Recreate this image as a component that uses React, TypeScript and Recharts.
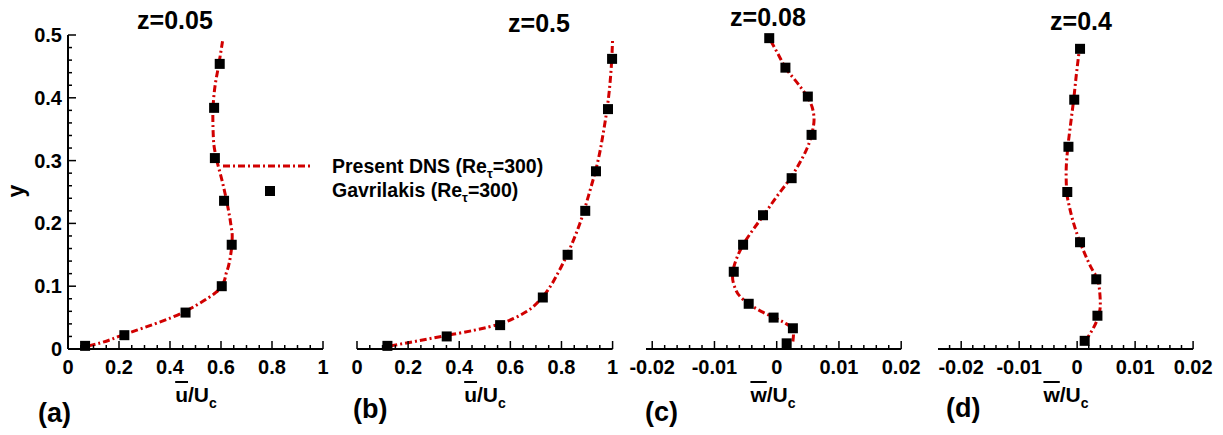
import React from 'react';
import { ScatterChart, Scatter, XAxis, YAxis } from 'recharts';

// ---------- data ----------
// Panel (a) z=0.05 : u/Uc
const aLineY = [0.005, 0.01, 0.02, 0.03, 0.04, 0.05, 0.06, 0.07, 0.08, 0.09, 0.1, 0.11, 0.12, 0.13, 0.15, 0.18, 0.2, 0.23, 0.27, 0.3, 0.33, 0.37, 0.42, 0.45, 0.49];
const aLineU = [0.08, 0.13, 0.2, 0.27, 0.34, 0.405, 0.46, 0.505, 0.545, 0.58, 0.602, 0.614, 0.62, 0.628, 0.638, 0.644, 0.638, 0.625, 0.603, 0.584, 0.571, 0.568, 0.577, 0.59, 0.606];
const aMarkY = [0.005, 0.022, 0.058, 0.1, 0.166, 0.236, 0.304, 0.384, 0.454];
const aMarkU = [0.067, 0.221, 0.461, 0.603, 0.642, 0.612, 0.576, 0.573, 0.595];

// Panel (b) z=0.5 : u/Uc
const bLineY = [0.005, 0.01, 0.02, 0.03, 0.04, 0.05, 0.06, 0.08, 0.1, 0.12, 0.15, 0.2, 0.25, 0.3, 0.35, 0.4, 0.45, 0.493];
const bLineU = [0.13, 0.2, 0.33, 0.46, 0.56, 0.62, 0.665, 0.72, 0.757, 0.785, 0.822, 0.872, 0.91, 0.943, 0.966, 0.984, 0.995, 1.0];
const bMarkY = [0.005, 0.02, 0.038, 0.082, 0.15, 0.22, 0.283, 0.382, 0.462];
const bMarkU = [0.119, 0.351, 0.56, 0.727, 0.824, 0.893, 0.935, 0.982, 0.998];

// Panel (c) z=0.08 : w/Uc
const cLineY = [0.012, 0.025, 0.033, 0.042, 0.05, 0.06, 0.072, 0.085, 0.1, 0.115, 0.13, 0.15, 0.166, 0.19, 0.213, 0.24, 0.272, 0.3, 0.32, 0.345, 0.365, 0.385, 0.402, 0.42, 0.448, 0.47, 0.495];
const cLineW = [0.0026, 0.0027, 0.0025, 0.0012, -0.0004, -0.0025, -0.0045, -0.006, -0.0068, -0.0071, -0.0069, -0.0062, -0.0054, -0.0038, -0.0021, -0.0002, 0.0022, 0.0039, 0.0049, 0.0057, 0.006, 0.0057, 0.0049, 0.0036, 0.0014, 0.0002, -0.0012];
const cMarkY = [0.009, 0.033, 0.05, 0.072, 0.123, 0.166, 0.213, 0.272, 0.341, 0.402, 0.448, 0.495];
const cMarkW = [0.0016, 0.0026, -0.0005, -0.0045, -0.0069, -0.0054, -0.0022, 0.0024, 0.0056, 0.005, 0.0014, -0.0012];

// Panel (d) z=0.4 : w/Uc
const dLineY = [0.013, 0.03, 0.053, 0.07, 0.09, 0.111, 0.13, 0.15, 0.17, 0.2, 0.225, 0.25, 0.28, 0.322, 0.36, 0.397, 0.44, 0.478];
const dLineW = [0.0014, 0.0026, 0.0037, 0.004, 0.0039, 0.0035, 0.0024, 0.0014, 0.0005, -0.0006, -0.0013, -0.0018, -0.0019, -0.0016, -0.0011, -0.0006, -0.0001, 0.0004];
const dMarkY = [0.013, 0.053, 0.111, 0.17, 0.25, 0.322, 0.397, 0.478];
const dMarkW = [0.0013, 0.0035, 0.0033, 0.0005, -0.0017, -0.0015, -0.0005, 0.0005];

// ticks
const uTicks = [0, 0.05, 0.1, 0.15, 0.2, 0.25, 0.3, 0.35, 0.4, 0.45, 0.5, 0.55, 0.6, 0.65, 0.7, 0.75, 0.8, 0.85, 0.9, 0.95, 1];
const uMajor = [0, 0.2, 0.4, 0.6, 0.8, 1];
const wTicksC = [-0.02, -0.018, -0.016, -0.014, -0.012, -0.01, -0.008, -0.006, -0.004, -0.002, 0, 0.002, 0.004, 0.006, 0.008, 0.01, 0.012, 0.014, 0.016, 0.018, 0.02];
const wTicksD = [-0.022, -0.02, -0.018, -0.016, -0.014, -0.012, -0.01, -0.008, -0.006, -0.004, -0.002, 0, 0.002, 0.004, 0.006, 0.008, 0.01, 0.012, 0.014, 0.016, 0.018, 0.02];
const wMajor = [-0.02, -0.01, 0, 0.01, 0.02];
const yTicks = [0, 0.02, 0.04, 0.06, 0.08, 0.1, 0.12, 0.14, 0.16, 0.18, 0.2, 0.22, 0.24, 0.26, 0.28, 0.3, 0.32, 0.34, 0.36, 0.38, 0.4, 0.42, 0.44, 0.46, 0.48, 0.5];
const yMajor = [0, 0.1, 0.2, 0.3, 0.4, 0.5];

const titles = ['z=0.05', 'z=0.5', 'z=0.08', 'z=0.4'];
const letters = ['(a)', '(b)', '(c)', '(d)'];
const legendNames = ['Present DNS (Re', 'Gavrilakis (Re'];

// ---------- styles ----------
const FONT = '"Liberation Sans", Arial, Helvetica, sans-serif';
const RED = '#d10000';
const DASH = '7 3 2 3';
const TICK_FS = 20;

const zip = (xs: number[], ys: number[]) => xs.map((x, i) => ({ x, y: ys[i] }));
const isIn = (v: number, arr: number[]) => arr.some((m) => Math.abs(m - v) < 1e-9);
const fmt = (v: number) => String(Number(v.toFixed(4)));

const makeXTick = (majors: number[]) => (props: any) => {
  const { x, y, payload } = props;
  const major = isIn(payload.value, majors);
  return (
    <g>
      <line x1={x} x2={x} y1={y} y2={y - (major ? 8 : 4)} stroke="#000" strokeWidth={1.5} />
      {major && (
        <text x={x} y={y + 25} textAnchor="middle" fontFamily={FONT} fontWeight="bold" fontSize={TICK_FS} fill="#000">
          {fmt(payload.value)}
        </text>
      )}
    </g>
  );
};

const YTick = (props: any) => {
  const { x, y, payload } = props;
  const major = isIn(payload.value, yMajor);
  return (
    <g>
      <line x1={x} x2={x + (major ? 8 : 4)} y1={y} y2={y} stroke="#000" strokeWidth={1.5} />
      {major && (
        <text x={x - 6} y={y + 7} textAnchor="end" fontFamily={FONT} fontWeight="bold" fontSize={TICK_FS} fill="#000">
          {fmt(payload.value)}
        </text>
      )}
    </g>
  );
};

const Square = (props: any) => {
  const { cx, cy } = props;
  if (cx == null || cy == null) return <g />;
  return <rect x={cx - 5} y={cy - 5} width={10} height={10} fill="#000" />;
};
const NoShape = () => <g />;

type PanelProps = {
  plotLeft: number;
  plotRight: number;
  domain: [number, number];
  ticks: number[];
  majors: number[];
  line: { x: number; y: number }[];
  marks: { x: number; y: number }[];
  showY: boolean;
};

const PLOT_TOP = 35;
const PLOT_BOTTOM = 349;
const H = 435;

function Panel({ plotLeft, plotRight, domain, ticks, majors, line, marks, showY }: PanelProps) {
  const yAxisW = 50;
  const chartLeft = showY ? 0 : plotLeft - 20;
  const width = plotRight - chartLeft + 20;
  const marginLeft = showY ? plotLeft - yAxisW : 20;
  const xAxisH = 30;
  return (
    <div style={{ position: 'absolute', left: chartLeft, top: 0 }}>
      <ScatterChart
        width={width}
        height={H}
        margin={{ top: PLOT_TOP, right: 20, left: marginLeft, bottom: H - PLOT_BOTTOM - xAxisH }}
      >
        <XAxis
          type="number"
          dataKey="x"
          domain={domain}
          ticks={ticks}
          interval={0}
          height={xAxisH}
          tickSize={0}
          tickMargin={0}
          tickLine={false}
          axisLine={{ stroke: '#000', strokeWidth: 2 }}
          tick={makeXTick(majors)}
        />
        <YAxis
          type="number"
          dataKey="y"
          domain={[0, 0.5]}
          ticks={yTicks}
          interval={0}
          hide={!showY}
          width={yAxisW}
          tickSize={0}
          tickMargin={0}
          tickLine={false}
          axisLine={{ stroke: '#000', strokeWidth: 2 }}
          tick={<YTick />}
        />
        <Scatter
          data={line}
          line={{ stroke: RED, strokeWidth: 3, strokeDasharray: DASH }}
          lineJointType="monotoneY"
          shape={<NoShape />}
          fill={RED}
          isAnimationActive={false}
        />
        <Scatter data={marks} shape={<Square />} fill="#000" isAnimationActive={false} />
      </ScatterChart>
    </div>
  );
}

const textStyle: React.CSSProperties = {
  position: 'absolute',
  fontFamily: FONT,
  fontWeight: 'bold',
  color: '#000',
  whiteSpace: 'nowrap',
  lineHeight: '21px',
  fontSize: 21,
};

function AxisTitle({ cx, letter }: { cx: number; letter: string }) {
  return (
    <div style={{ ...textStyle, left: cx, top: 402 - 18, transform: 'translateX(-50%)' }}>
      <span style={{ textDecoration: 'overline' }}>{letter}</span>/U
      <span style={{ fontSize: 14, position: 'relative', top: 6 }}>c</span>
    </div>
  );
}

export default function App() {
  const panels = [
    { plotLeft: 68, plotRight: 323, domain: [0, 1] as [number, number], ticks: uTicks, majors: uMajor, line: zip(aLineU, aLineY), marks: zip(aMarkU, aMarkY), showY: true },
    { plotLeft: 357, plotRight: 612.6, domain: [0, 1] as [number, number], ticks: uTicks, majors: uMajor, line: zip(bLineU, bLineY), marks: zip(bMarkU, bMarkY), showY: false },
    { plotLeft: 645.7, plotRight: 900.9, domain: [-0.021, 0.02] as [number, number], ticks: wTicksC, majors: wMajor, line: zip(cLineW, cLineY), marks: zip(cMarkW, cMarkY), showY: false },
    { plotLeft: 938.3, plotRight: 1193.4, domain: [-0.024, 0.02] as [number, number], ticks: wTicksD, majors: wMajor, line: zip(dLineW, dLineY), marks: zip(dMarkW, dMarkY), showY: false },
  ];
  const titlePos = [
    { x: 175, y: 29 },
    { x: 539, y: 32 },
    { x: 768, y: 26 },
    { x: 1081, y: 30 },
  ];
  const letterPos = [
    { x: 38, y: 422 },
    { x: 353, y: 418 },
    { x: 645, y: 421 },
    { x: 946, y: 417 },
  ];
  const axisTitleX = [196, 485, 773, 1066];
  const axisLetters = ['u', 'u', 'w', 'w'];

  return (
    <div style={{ position: 'fixed', left: 0, top: 0, width: 1223, height: 435, background: '#fff', overflow: 'hidden' }}>
      {panels.map((p, i) => (
        <Panel key={i} {...p} />
      ))}
      <svg width={1223} height={435} style={{ position: 'absolute', left: 0, top: 0, pointerEvents: 'none' }}>
        {titles.map((t, i) => (
          <text key={t} x={titlePos[i].x} y={titlePos[i].y} textAnchor="middle" fontFamily={FONT} fontWeight="bold" fontSize={25} fill="#000">
            {t}
          </text>
        ))}
        {letters.map((t, i) => (
          <text key={t} x={letterPos[i].x} y={letterPos[i].y} fontFamily={FONT} fontWeight="bold" fontSize={27} fill="#000">
            {t}
          </text>
        ))}
        <text transform="translate(23.5,191) rotate(-90)" textAnchor="middle" fontFamily={FONT} fontWeight="bold" fontSize={23} fill="#000">
          y
        </text>
        {/* legend */}
        <line x1={223} x2={313} y1={166} y2={166} stroke={RED} strokeWidth={3} strokeDasharray={DASH} />
        <rect x={265} y={186} width={10} height={10} fill="#000" />
        {legendNames.map((n, i) => (
          <text key={n} x={332} y={173 + i * 24} fontFamily={FONT} fontWeight="bold" fontSize={19.5} fill="#000">
            {n}
            <tspan dy={5} fontSize={13}>τ</tspan>
            <tspan dy={-5}>=300)</tspan>
          </text>
        ))}
      </svg>
      {axisTitleX.map((cx, i) => (
        <AxisTitle key={i} cx={cx} letter={axisLetters[i]} />
      ))}
    </div>
  );
}
